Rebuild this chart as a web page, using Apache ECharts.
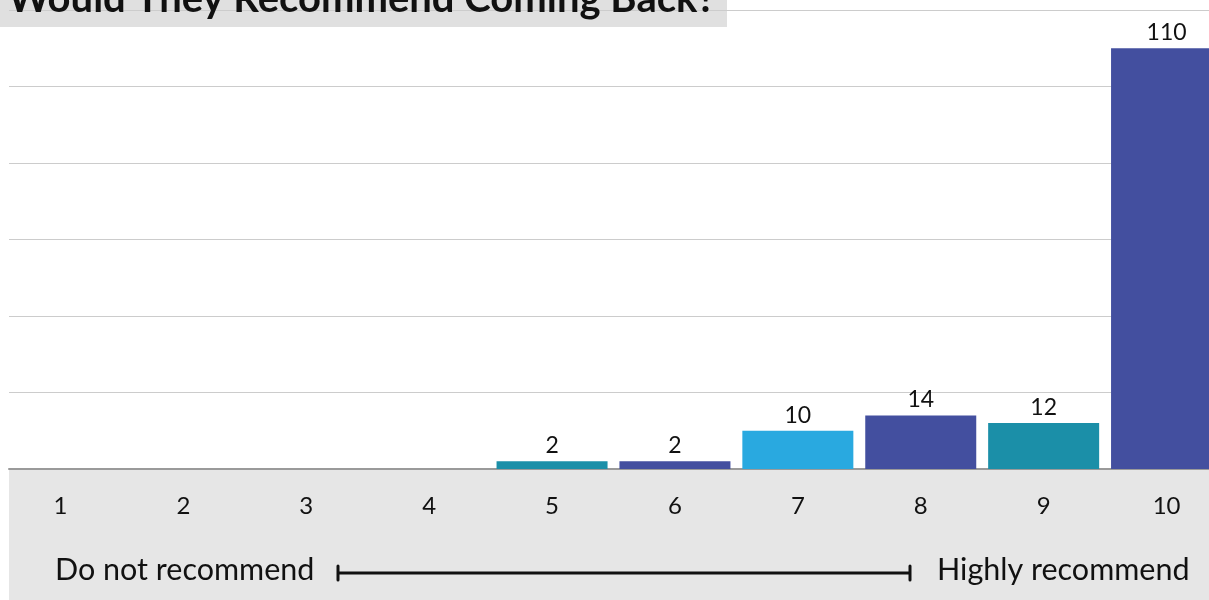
<!DOCTYPE html>
<html>
<head>
<meta charset="utf-8">
<script src="https://cdn.jsdelivr.net/npm/echarts@6/dist/echarts.min.js"></script>
<style>
html,body{margin:0;padding:0;background:#fff;}
#chart{width:1209px;height:600px;}
</style>
</head>
<body>
<div id="chart"></div>
<script>
const titleText = 'Would They Recommend Coming Back?';
const categories = ['1','2','3','4','5','6','7','8','9','10'];
const values = [0,0,0,0,2,2,10,14,12,110];
const barColors = ['#1b8fa8','#434f9f','#29a9e0','#434f9f','#1b8fa8','#434f9f','#29a9e0','#434f9f','#1b8fa8','#434f9f'];
const scaleLow = 'Do not recommend';
const scaleHigh = 'Highly recommend';
const yMax = 120, yInterval = 20;

const chart = echarts.init(document.getElementById('chart'));
const font = 'Lato';
chart.setOption({
  animation: false,
  title: {
    text: titleText, left: 3, top: -26,
    textStyle: {fontFamily: font, fontWeight: 'bold', fontSize: 40, color: '#111'}
  },
  grid: [
    {left: -1, right: -19, top: 10, height: 459, outerBoundsMode: 'none', containLabel: false},
    {left: 9, right: 0, top: 10, height: 459}
  ],
  xAxis: [
    {type: 'category', gridIndex: 0, data: categories,
     axisLine: {show: false}, axisTick: {show: false},
     axisLabel: {fontFamily: font, fontSize: 24, color: '#111', margin: 25}},
    {type: 'value', gridIndex: 1, min: 0, max: 1,
     axisLine: {show: true, lineStyle: {color: '#9a9a9a', width: 2}},
     axisTick: {show: false}, axisLabel: {show: false}, splitLine: {show: false}}
  ],
  yAxis: [
    {type: 'value', gridIndex: 0, min: 0, max: yMax, interval: yInterval,
     axisLabel: {show: false}, splitLine: {show: false}, axisLine: {show: false}, axisTick: {show: false}},
    {type: 'value', gridIndex: 1, min: 0, max: yMax, interval: yInterval,
     axisLabel: {show: false}, axisLine: {show: false}, axisTick: {show: false},
     splitLine: {show: true, lineStyle: {color: '#cccccc', width: 1}}}
  ],
  series: [{
    type: 'bar', xAxisIndex: 0, yAxisIndex: 0,
    barWidth: 111,
    data: values.map((v, i) => ({value: v, itemStyle: {color: barColors[i]}})),
    label: {
      show: true, position: 'top', distance: 4,
      fontFamily: font, fontSize: 23, color: '#111',
      formatter: p => p.value > 0 ? String(p.value) : ''
    }
  }],
  graphic: [
    {type: 'rect', z: -10, shape: {x: 0, y: 0, width: 727, height: 27}, style: {fill: '#e0e0e0'}},
    {type: 'rect', z: -10, shape: {x: 9, y: 469, width: 1200, height: 131}, style: {fill: '#e6e6e6'}},
    {type: 'text', left: 55, top: 555, style: {text: scaleLow, fontFamily: font, fontSize: 30.5, fill: '#111'}},
    {type: 'text', left: 937, top: 555, style: {text: scaleHigh, fontFamily: font, fontSize: 30.5, fill: '#111'}},
    {type: 'line', shape: {x1: 338, y1: 573, x2: 910, y2: 573}, style: {stroke: '#111', lineWidth: 3}},
    {type: 'line', shape: {x1: 338, y1: 566, x2: 338, y2: 580}, style: {stroke: '#111', lineWidth: 3, lineCap: 'round'}},
    {type: 'line', shape: {x1: 910, y1: 566, x2: 910, y2: 580}, style: {stroke: '#111', lineWidth: 3, lineCap: 'round'}}
  ]
});
</script>
</body>
</html>
